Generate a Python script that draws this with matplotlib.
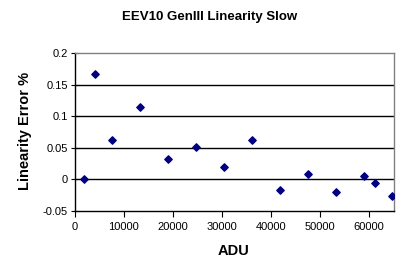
import numpy as np
import matplotlib.pyplot as plt

plt.rcParams['font.family'] = ['Liberation Sans', 'DejaVu Sans']

# ADU vs linearity error (%)
adu = [1850, 4150, 7620, 13330, 18980, 24700, 30400, 36190,
       41900, 47620, 53330, 59050, 61290, 64760]
lin_err = [0.0, 0.166, 0.062, 0.114, 0.033, 0.052, 0.019, 0.062,
           -0.016, 0.008, -0.020, 0.005, -0.005, -0.027]

fig = plt.figure(figsize=(4.09, 2.71), dpi=100)
ax = fig.add_axes([75/409, 1-211/271, (394-75)/409, (211-53)/271])

ax.scatter(adu, lin_err, marker='D', s=14, color='#000080', zorder=3)

ax.set_xlim(0, 65200)
ax.set_ylim(-0.05, 0.2)
ax.set_xticks(np.arange(0, 60001, 10000))
ax.set_yticks([-0.05, 0, 0.05, 0.1, 0.15, 0.2])
ax.set_yticklabels(['-0.05', '0', '0.05', '0.1', '0.15', '0.2'])

for y in [0, 0.05, 0.1, 0.15]:
    ax.axhline(y, color='black', lw=1, zorder=1)

ax.spines['top'].set_color('#808080')
ax.spines['right'].set_color('#808080')
ax.spines['left'].set_color('black')
ax.spines['bottom'].set_color('black')
for s in ax.spines.values():
    s.set_linewidth(1)

ax.tick_params(axis='y', direction='inout', length=6, labelsize=8, pad=2)
ax.tick_params(axis='x', direction='out', length=4, labelsize=8, pad=4)

fig.text(0.512, 1-17/271, 'EEV10 GenIII Linearity Slow', ha='center', va='center',
         fontsize=9.5, fontweight='bold')
fig.text(234/409, 1-251/271, 'ADU', ha='center', va='center',
         fontsize=10.5, fontweight='bold')
fig.text(25/409, 1-131/271, 'Linearity Error %', rotation=90, ha='center',
         va='center', fontsize=10.5, fontweight='bold')

fig.savefig('out.png', dpi=100)
